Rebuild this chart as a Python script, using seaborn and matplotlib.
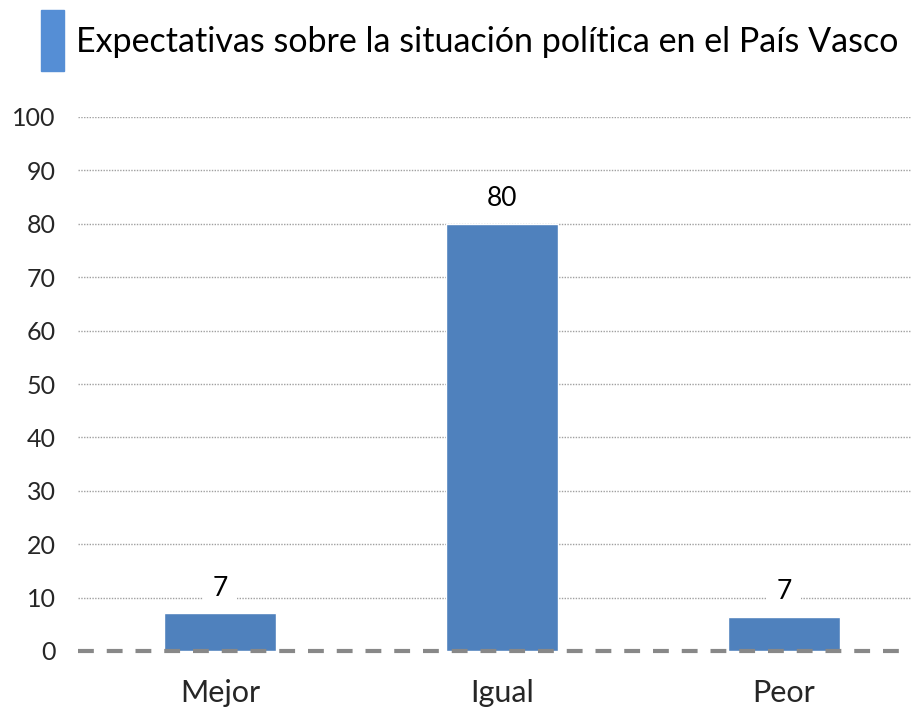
import matplotlib
matplotlib.use("Agg")
import matplotlib.pyplot as plt
import seaborn as sns
import pandas as pd
from matplotlib.patches import Rectangle

categories = ["Mejor", "Igual", "Peor"]
values = [7.1, 80, 6.4]
value_labels = ["7", "80", "7"]
y_ticks = [0, 10, 20, 30, 40, 50, 60, 70, 80, 90, 100]
title = "Expectativas sobre la situación política en el País Vasco"

sns.set_theme(style="white")
plt.rcParams["font.family"] = ["Lato", "DejaVu Sans"]

df = pd.DataFrame({"cat": categories, "val": values})

fig = plt.figure(figsize=(9.15, 7.08), dpi=100)
ax = fig.add_axes([78 / 915, (708 - 651) / 708, (911 - 78) / 915, (651 - 117) / 708])

sns.barplot(data=df, x="cat", y="val", color="#4f81bd", width=0.4, ax=ax,
            saturation=1, zorder=3)

ax.set_ylim(0, 100)
ax.set_xlim(-0.5035, 2.45)
ax.set_yticks(y_ticks)
ax.set_yticklabels([str(t) for t in y_ticks], fontsize=18)
ax.tick_params(axis="x", labelsize=22, pad=20, length=0)
ax.tick_params(axis="y", pad=16, length=0)
ax.set_xlabel("")
ax.set_ylabel("")
for s in ax.spines.values():
    s.set_visible(False)

for t in y_ticks[1:]:
    ax.axhline(t, color="#a0a0a0", lw=1.0, ls=(0, (1, 1)), zorder=1)
ax.axhline(0, color="#888888", lw=3, ls=(0, (3.8, 3.1)), zorder=4, clip_on=False)

for i, (v, lab) in enumerate(zip(values, value_labels)):
    ax.annotate(lab, (i, v), xytext=(0, 9), textcoords="offset points",
                ha="center", va="bottom", fontsize=19, color="black", zorder=5,
                bbox=dict(boxstyle="square,pad=0.35", fc="white", ec="none"))

fig.patches.append(Rectangle((41 / 915, 1 - 71 / 708), 23 / 915, 61 / 708,
                             transform=fig.transFigure, color="#558ed5"))
fig.text(76 / 915, 1 - 42 / 708, title, fontsize=24.5, va="center", ha="left",
         color="black")

fig.savefig("out.png", dpi=100)
